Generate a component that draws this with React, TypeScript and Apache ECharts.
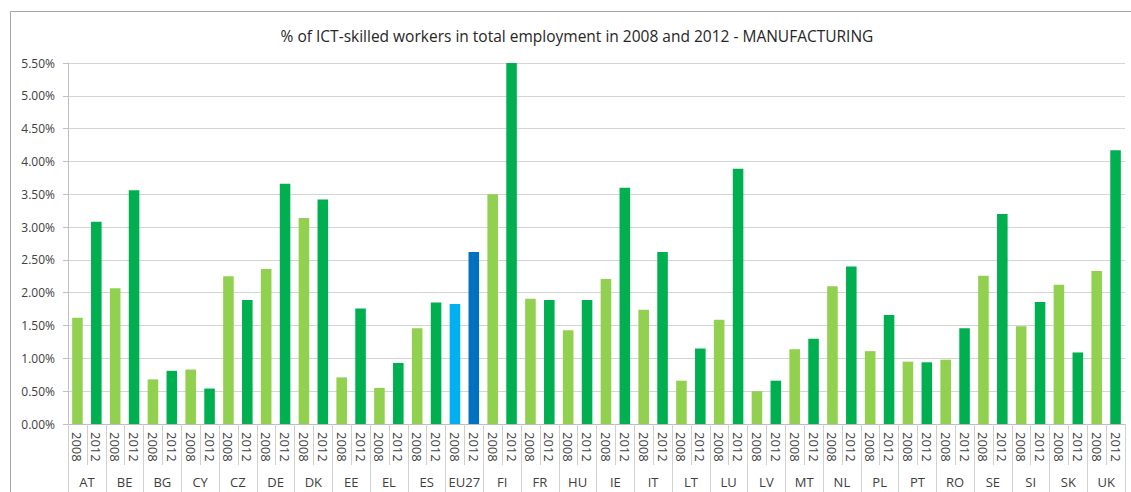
import React, { useEffect, useRef } from "react";
import * as echarts from "echarts";

const countries = ["AT","BE","BG","CY","CZ","DE","DK","EE","EL","ES","EU27","FI","FR","HU","IE","IT","LT","LU","LV","MT","NL","PL","PT","RO","SE","SI","SK","UK"];
const years = ["2008", "2012"];
const values2008 = [1.62,2.07,0.68,0.83,2.25,2.36,3.14,0.71,0.55,1.46,1.83,3.50,1.91,1.43,2.21,1.74,0.66,1.59,0.50,1.14,2.10,1.11,0.95,0.98,2.26,1.49,2.12,2.33];
const values2012 = [3.08,3.56,0.81,0.54,1.89,3.66,3.42,1.76,0.93,1.85,2.62,5.50,1.89,1.89,3.60,2.62,1.15,3.89,0.66,1.30,2.40,1.66,0.94,1.46,3.20,1.86,1.09,4.17];
const yTicks = [0, 0.5, 1, 1.5, 2, 2.5, 3, 3.5, 4, 4.5, 5, 5.5];
const title = "% of ICT-skilled workers in total employment in 2008 and 2012 - MANUFACTURING";

const COL08 = "#92D050";
const COL12 = "#00B050";
const EU08 = "#00B0F0";
const EU12 = "#0070C0";

export default function App() {
  const ref = useRef<HTMLDivElement>(null);
  useEffect(() => {
    document.body.style.margin = "0";
    const chart = echarts.init(ref.current!, null, { renderer: "svg" });
    const yearCats: string[] = [];
    const data: any[] = [];
    countries.forEach((c, i) => {
      const eu = c === "EU27";
      yearCats.push(years[0], years[1]);
      data.push({ value: values2008[i], itemStyle: { color: eu ? EU08 : COL08 } });
      data.push({ value: values2012[i], itemStyle: { color: eu ? EU12 : COL12 } });
    });
    const font = "'Open Sans', sans-serif";
    chart.setOption({
      animation: false,
      backgroundColor: "#ffffff",
      textStyle: { fontFamily: font },
      title: {
        text: title,
        left: 572,
        textAlign: "center",
        top: 23,
        textStyle: { fontSize: 15.5, fontWeight: "normal", color: "#262626", fontFamily: font },
      },
      graphic: [
        {
          type: "rect",
          shape: { x: 10.5, y: 11.5, width: 1140, height: 500 },
          style: { fill: "none", stroke: "#a6a6a6", lineWidth: 1 },
          silent: true,
        },
      ],
      grid: { left: 68, right: 6, top: 63, bottom: 68 },
      xAxis: [
        {
          type: "category",
          data: yearCats,
          position: "bottom",
          axisLine: { show: true, lineStyle: { color: "#bfbfbf" } },
          axisTick: { show: true, interval: 0, alignWithLabel: false, length: 41, lineStyle: { color: "#d0d0d0" } },
          axisLabel: { interval: 0, rotate: -90, margin: 8, fontSize: 13, color: "#404040", fontFamily: font },
          splitLine: { show: false },
        },
        {
          type: "category",
          data: countries,
          position: "bottom",
          axisLine: { show: false },
          axisTick: { show: true, interval: 0, alignWithLabel: false, length: 72, lineStyle: { color: "#d0d0d0" } },
          axisLabel: { interval: 0, margin: 51, fontSize: 13, color: "#404040", fontFamily: font },
          splitLine: { show: false },
        },
      ],
      yAxis: {
        type: "value",
        min: yTicks[0],
        max: yTicks[yTicks.length - 1],
        interval: 0.5,
        axisLine: { show: true, lineStyle: { color: "#bfbfbf" } },
        axisTick: { show: true, length: 5, lineStyle: { color: "#bfbfbf" } },
        axisLabel: { fontSize: 12, color: "#404040", margin: 13, formatter: (v: number) => v.toFixed(2) + "%", fontFamily: font },
        splitLine: { show: true, lineStyle: { color: "#d4d4d4" } },
      },
      series: [
        {
          type: "bar",
          xAxisIndex: 0,
          data,
          barWidth: "56%",
        },
      ],
    });
    return () => chart.dispose();
  }, []);
  return <div ref={ref} style={{ width: 1131, height: 492 }} />;
}
